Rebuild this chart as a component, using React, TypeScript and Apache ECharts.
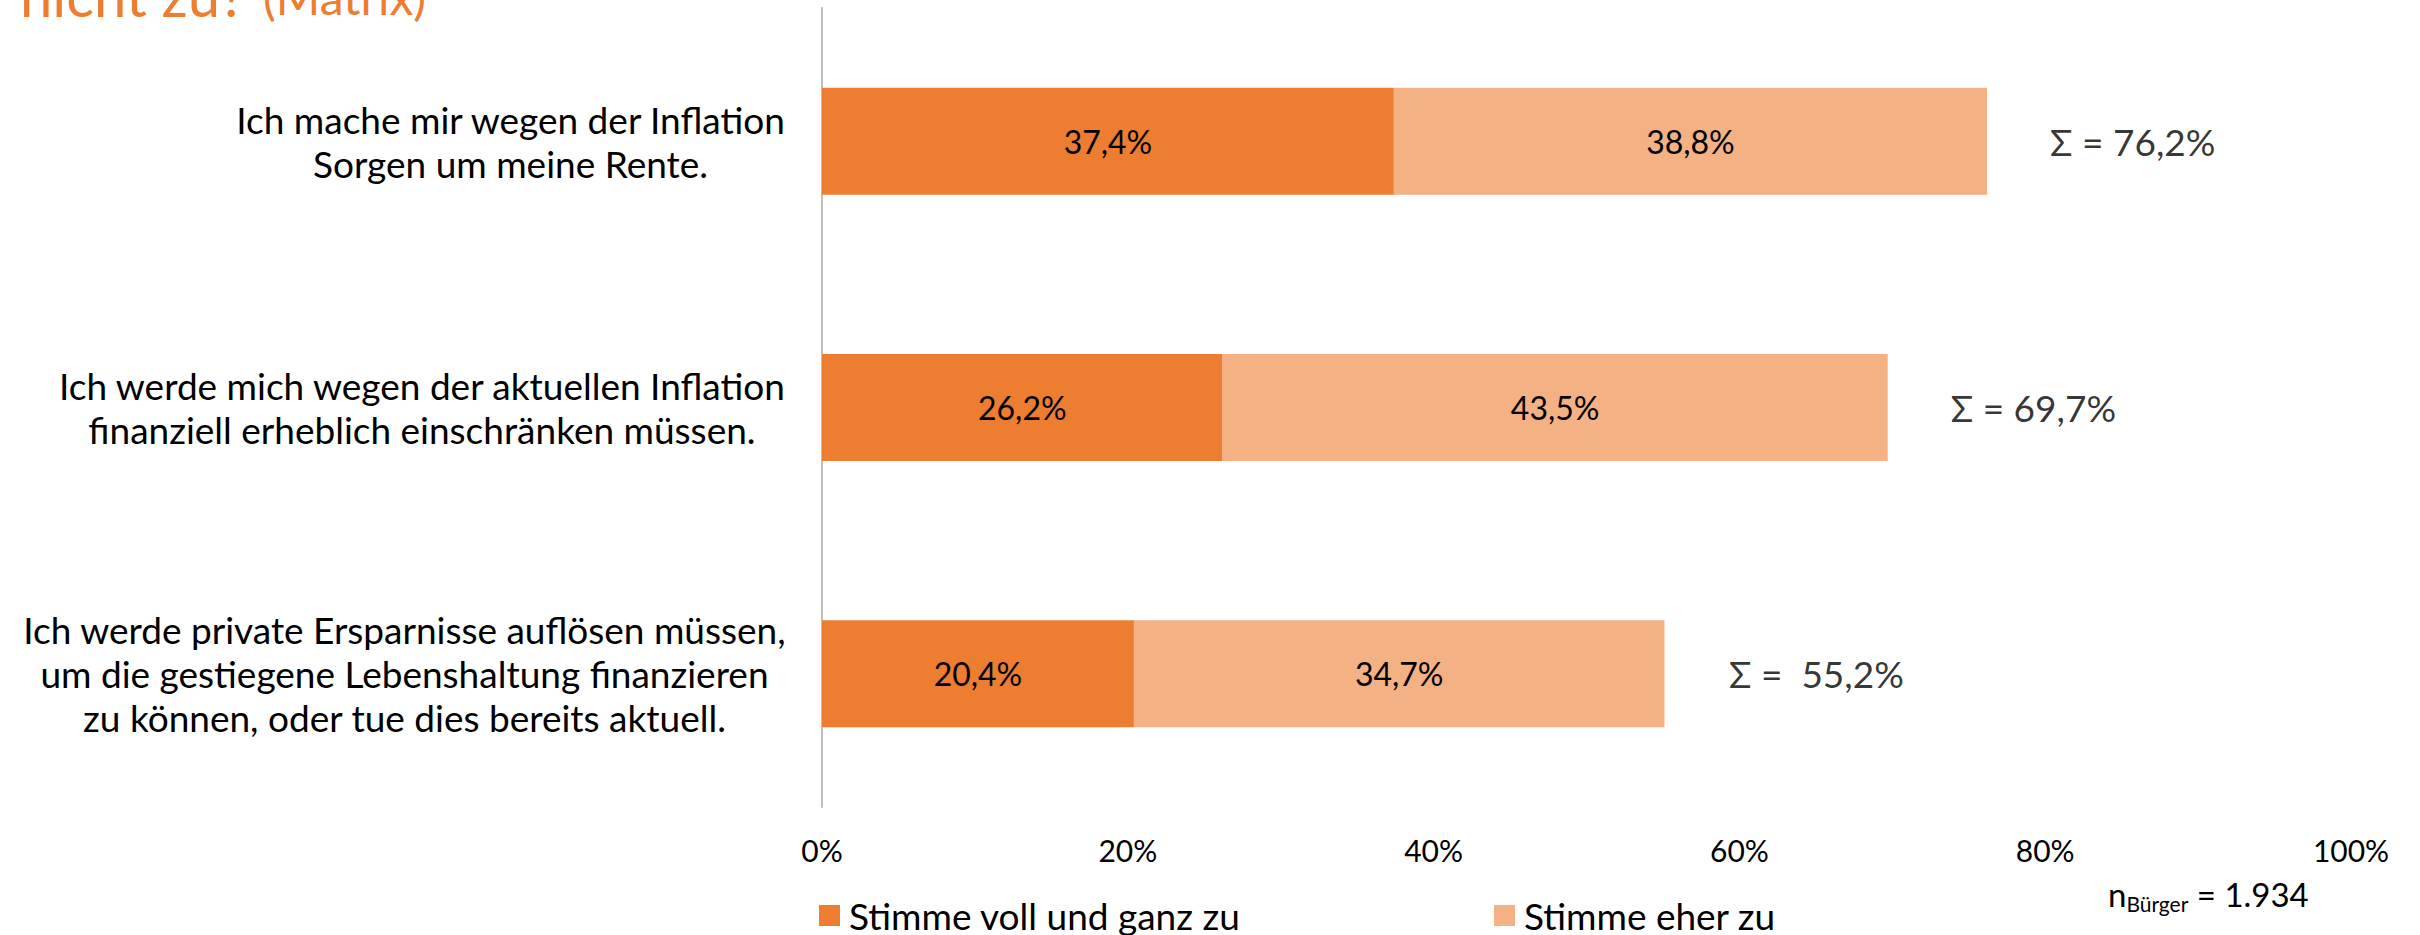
import React, { useEffect, useRef } from "react";
import * as echarts from "echarts";

const categories = [
  "Ich mache mir wegen der Inflation\nSorgen um meine Rente.",
  "Ich werde mich wegen der aktuellen Inflation\nfinanziell erheblich einschränken müssen.",
  "Ich werde private Ersparnisse auflösen müssen,\num die gestiegene Lebenshaltung finanzieren\nzu können, oder tue dies bereits aktuell.",
];
const seriesNames = ["Stimme voll und ganz zu", "Stimme eher zu"];
const fullAgree = [37.4, 26.2, 20.4];
const ratherAgree = [38.8, 43.5, 34.7];
const sums = [76.2, 69.7, 55.2];
const sumPrefixes = ["Σ = ", "Σ = ", "Σ =  "];
const xTicks = [0, 20, 40, 60, 80, 100];
const titleMain = "nicht zu?";
const titleSub = "(Matrix)";
const sampleLabel = { n: "n", sub: "Bürger", rest: " = 1.934" };

const FONT = "Lato";
const fmt = (v: number) => v.toFixed(1).replace(".", ",") + "%";

export default function App() {
  const ref = useRef<HTMLDivElement>(null);
  useEffect(() => {
    document.body.style.margin = "0";
    if (!ref.current) return;
    const chart = echarts.init(ref.current, null, { renderer: "svg" });
    const legendCommon = {
      top: 897,
      padding: 0,
      icon: "rect",
      itemWidth: 21,
      itemHeight: 21,
      textStyle: { fontSize: 37, fontFamily: FONT, color: "#000", padding: [0, 0, 0, 4] },
    };
    const option: any = {
      animation: false,
      backgroundColor: "#fff",
      textStyle: { fontFamily: FONT },
      grid: { left: 822, right: 69, top: 8, bottom: 935 - 807, containLabel: false },
      xAxis: {
        type: "value",
        min: xTicks[0],
        max: xTicks[xTicks.length - 1],
        interval: 20,
        splitLine: { show: false },
        axisLine: { show: false },
        axisTick: { show: false },
        axisLabel: {
          formatter: "{value}%",
          fontSize: 30,
          fontFamily: FONT,
          color: "#000",
          margin: 28,
        },
      },
      yAxis: {
        type: "category",
        inverse: true,
        data: categories,
        axisTick: { show: false },
        axisLine: { show: true, lineStyle: { color: "#BFBFBF", width: 2 } },
        axisLabel: {
          margin: 36,
          align: "right",
          formatter: (v: string) => v.split("\n").map((l) => `{c|${l}}`).join("\n"),
          rich: {
            c: { fontSize: 37, lineHeight: 44, align: "center", fontFamily: FONT, color: "#000" },
          },
        },
      },
      legend: [
        { ...legendCommon, data: [seriesNames[0]], left: 819 },
        { ...legendCommon, data: [seriesNames[1]], left: 1494 },
      ],
      graphic: [
        {
          type: "text",
          x: 20,
          y: -6,
          style: {
            text: titleMain,
            fontSize: 58,
            fontFamily: FONT,
            fill: "#ED7D31",
            verticalAlign: "middle",
          },
        },
        {
          type: "text",
          x: 263,
          y: -4,
          style: {
            text: titleSub,
            fontSize: 48,
            fontFamily: FONT,
            fill: "#ED7D31",
            verticalAlign: "middle",
          },
        },
        {
          type: "text",
          x: 2108,
          y: 874,
          style: {
            text: `{n|${sampleLabel.n}}{s|${sampleLabel.sub}}{e|${sampleLabel.rest}}`,
            rich: {
              n: { fontSize: 33, fontFamily: FONT, fill: "#000", lineHeight: 40 },
              s: { fontSize: 21, fontFamily: FONT, fill: "#000", lineHeight: 21, verticalAlign: "bottom" },
              e: { fontSize: 33, fontFamily: FONT, fill: "#000", lineHeight: 40 },
            },
          },
        },
      ],
      series: [
        {
          name: seriesNames[0],
          type: "bar",
          stack: "total",
          data: fullAgree,
          barWidth: 107,
          itemStyle: { color: "#ED7D31" },
          label: { show: true, position: "inside", formatter: (p: any) => fmt(p.value), fontSize: 32, fontFamily: FONT, color: "#000" },
        },
        {
          name: seriesNames[1],
          type: "bar",
          stack: "total",
          data: ratherAgree,
          barWidth: 107,
          itemStyle: { color: "#F4B183" },
          label: { show: true, position: "inside", formatter: (p: any) => fmt(p.value), fontSize: 32, fontFamily: FONT, color: "#000" },
        },
        {
          name: "Summe",
          type: "scatter",
          data: sums.map((v, i) => [v, i]),
          symbolSize: 0,
          silent: true,
          label: {
            show: true,
            position: "right",
            distance: 63,
            formatter: (p: any) => sumPrefixes[p.dataIndex] + fmt(p.value[0]),
            fontSize: 37,
            fontFamily: FONT,
            color: "#000",
          },
        },
      ],
    };
    chart.setOption(option);
    return () => chart.dispose();
  }, []);
  return <div ref={ref} style={{ width: 2420, height: 935 }} />;
}
